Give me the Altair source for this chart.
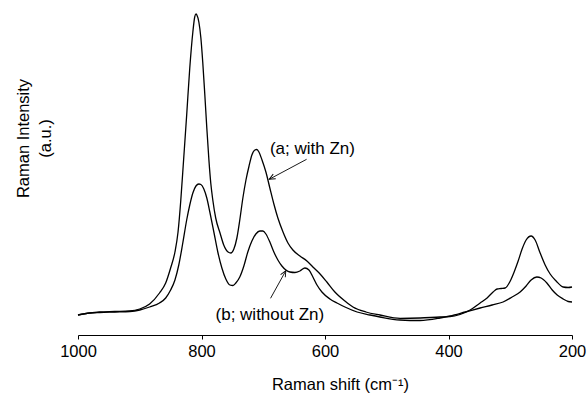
import math
import altair as alt
import pandas as pd

# Raman spectra, shift in cm^-1 and intensity in arbitrary units
shift_a = [1000, 981, 965, 940.5, 916, 900, 884, 868, 858, 850, 843, 838, 833.5, 829, 824,
           819, 814, 811, 809, 807.5, 804.3, 801, 798, 794.6, 791.4, 788, 785, 781.7, 777,
           770, 764, 757, 752.5, 747.6, 742.7, 738, 733, 728, 723, 718.4, 713.6, 710.3, 707,
           702, 695.7, 689.3, 682.8, 676.3, 668, 660, 652, 640.6, 629.3, 619.6, 608, 597,
           584, 567.7, 554.7, 533.7, 511, 478.5, 446, 413.7, 397.5, 381.3, 365, 348.8, 337.5,
           327.8, 321.3, 314.8, 308.3, 300, 293.7, 287.2, 280.8, 274.3, 266.2, 259.7, 251.6,
           243.5, 235.4, 225.7, 214.3, 206.2, 200]
int_a = [20, 22, 23, 23.5, 24, 26, 31, 42, 52, 67, 83, 103, 135, 175, 220,
         267, 303, 318, 321, 320, 313, 297, 273, 240, 207, 175, 152, 135, 117,
         102, 90, 83, 82, 86, 97, 115, 137, 155, 169, 180, 185, 185.5, 183,
         175, 163, 147, 131, 117, 103, 92, 85, 79, 74, 68, 61, 53,
         43, 34, 28, 23, 20, 16.7, 17, 18, 18.3, 20.5, 25, 32, 37,
         43, 46, 46.5, 47, 54, 63, 74, 86, 95, 99, 95, 82,
         70, 61, 54, 48, 47.5, 48]

shift_b = [1000, 981, 965, 940.5, 916, 900, 884, 868, 858, 850, 843, 836.8, 830.3, 824, 819,
           814, 809, 804.3, 801, 796.2, 791.4, 786.5, 780, 773.6, 767, 760.6, 754, 749, 744.4,
           738, 731.4, 725, 718.4, 712, 705.5, 700.6, 695.7, 689.3, 682.8, 676.3, 669.8, 663.3,
           656.8, 648.7, 640.6, 632.5, 626, 619.6, 613, 605, 592, 580.6, 567.7, 548, 527, 511,
           478.5, 446, 413.7, 397.5, 373, 348.8, 329.4, 311.6, 297, 284, 274.3, 266.2, 257,
           250, 240.7, 232, 224, 214.3, 206.2, 200]
int_b = [20, 22, 22.5, 23, 23.5, 25, 28, 32, 37, 45, 55, 70, 92, 115, 130,
         142, 149, 151, 150.5, 146, 137, 123, 103, 83, 67, 56, 50, 49.5, 52,
         58, 69, 83, 94, 101, 104, 104, 101, 93, 83, 75, 69, 65,
         63, 62.5, 64, 67, 65, 58, 50, 43, 36, 32, 28, 23, 20, 18,
         15, 14.5, 17, 19, 23, 27, 30, 33, 38, 43, 49, 55, 58,
         57, 52, 45, 40, 36, 33.5, 33]

# Curve labels and arrows (data coordinates)
labels = ["(a; with Zn)", "(b; without Zn)"]
label_x = [620.4, 689.3]
label_y = [186, 20.5]
arrow_x0 = [629.8, 688.2]
arrow_y0 = [175.7, 36.7]
arrow_x1 = [690.4, 663.4]
arrow_y1 = [155.7, 64.3]

X_DOMAIN = [200, 1000]
Y_DOMAIN = [0, 330]
W, H = 494, 330
FONT = "Liberation Sans"

spectra = pd.concat([
    pd.DataFrame({"shift": shift_a, "intensity": int_a, "sample": "a"}),
    pd.DataFrame({"shift": shift_b, "intensity": int_b, "sample": "b"}),
])

# screen direction of each arrow, used to rotate the arrowheads
px_per_x = W / (X_DOMAIN[1] - X_DOMAIN[0])
px_per_y = H / (Y_DOMAIN[1] - Y_DOMAIN[0])
angles = []
for x0, y0, x1, y1 in zip(arrow_x0, arrow_y0, arrow_x1, arrow_y1):
    dx = -(x1 - x0) * px_per_x      # x axis is reversed
    dy = -(y1 - y0) * px_per_y      # screen y grows downward
    angles.append(math.degrees(math.atan2(dx, -dy)) % 360)

notes = pd.DataFrame({"label": labels, "lx": label_x, "ly": label_y})
arrows = pd.DataFrame({"x0": arrow_x0, "y0": arrow_y0, "x1": arrow_x1,
                       "y1": arrow_y1, "angle": angles})

x_scale = alt.Scale(domain=X_DOMAIN, reverse=True, nice=False, zero=False)
y_scale = alt.Scale(domain=Y_DOMAIN, nice=False, zero=False)

x_axis = alt.Axis(values=[1000, 800, 600, 400, 200], format="d", grid=False, tickSize=4,
                  labelPadding=4, labelFontSize=16.5, labelFont=FONT,
                  labelColor="black", domainColor="black", tickColor="black",
                  labelFlush=False, labelOverlap=False,
                  title="Raman shift (cm\u207b\u00b9)", titleFont=FONT,
                  titleFontSize=16.5, titleFontWeight="normal", titleColor="black",
                  titleX=262, titleY=54, titleBaseline="alphabetic", titleAlign="center")
y_axis = alt.Axis(labels=False, ticks=False, domain=False, grid=False,
                  title=["Raman Intensity", "(a.u.)"], titleFont=FONT,
                  titleFontSize=16.5, titleFontWeight="normal", titleColor="black",
                  titleAngle=270, titleX=-50, titleY=133, titleAlign="center",
                  titleBaseline="alphabetic", titleLineHeight=22)

lines = alt.Chart(spectra).mark_line(color="black", strokeWidth=1.3,
                                     interpolate="monotone").encode(
    x=alt.X("shift:Q", scale=x_scale, axis=x_axis),
    y=alt.Y("intensity:Q", scale=y_scale, axis=y_axis),
    detail="sample:N",
)

text = alt.Chart(notes).mark_text(font=FONT, fontSize=17, color="black",
                                  align="center", baseline="middle").encode(
    x=alt.X("lx:Q", scale=x_scale), y=alt.Y("ly:Q", scale=y_scale), text="label:N")

shafts = alt.Chart(arrows).mark_rule(color="black", strokeWidth=0.9).encode(
    x=alt.X("x0:Q", scale=x_scale), y=alt.Y("y0:Q", scale=y_scale),
    x2="x1:Q", y2="y1:Q")

heads = alt.Chart(arrows).mark_point(shape="M -0.42 0.95 L 0 0 L 0.42 0.95",
                                     filled=False, stroke="black", strokeWidth=0.9,
                                     size=160, opacity=1).encode(
    x=alt.X("x1:Q", scale=x_scale), y=alt.Y("y1:Q", scale=y_scale),
    angle=alt.Angle("angle:Q", scale=None))

chart = alt.layer(lines, shafts, heads, text).properties(
    width=W, height=H,
    autosize=alt.AutoSizeParams(type="none"),
    padding={"left": 78, "right": 16, "top": 5, "bottom": 61},
    background="white",
).configure_view(stroke=None)

chart.save("out.html", embed_options={"renderer": "svg", "actions": False})
